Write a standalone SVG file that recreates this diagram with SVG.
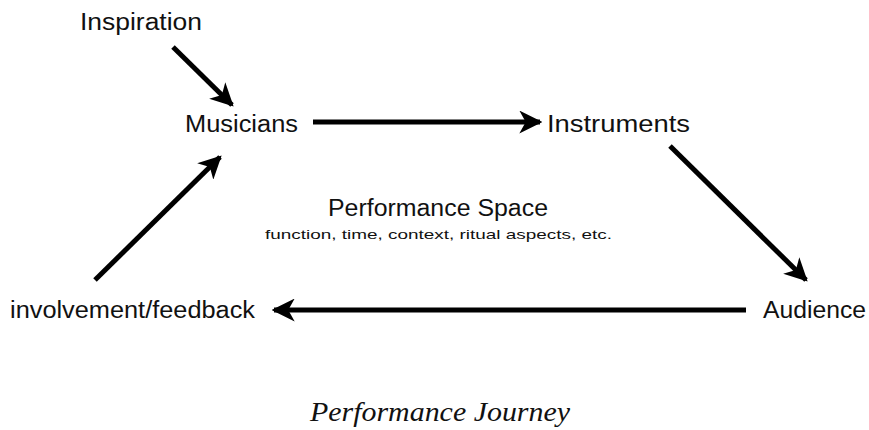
<svg xmlns="http://www.w3.org/2000/svg" width="869" height="430" viewBox="0 0 869 430">
  <style>
    .lbl { font-family: "Liberation Sans", Arial, sans-serif; font-size: 23px; fill: #111; }
    .space { font-family: "Liberation Sans", Arial, sans-serif; font-size: 23px; fill: #111; }
    .note { font-family: "Liberation Sans", Arial, sans-serif; font-size: 13.5px; fill: #111; }
    .title { font-family: "Liberation Serif", "Times New Roman", serif; font-style: italic; font-size: 27px; fill: #111; }
    .edge { stroke: #000; stroke-width: 5; fill: none; stroke-linecap: butt; marker-end: url(#head); }
  </style>
  <defs>
    <marker id="head" viewBox="0 0 10 10" refX="9" refY="5" markerWidth="4.6" markerHeight="4.6" orient="auto" markerUnits="strokeWidth">
      <path d="M0,0 L10,5 L0,10 L2.8,5 Z" fill="#000"/>
    </marker>
  </defs>
  <rect width="869" height="430" fill="#fff"/>

  <g id="connectors">
    <line class="edge" x1="173" y1="47" x2="232" y2="105"/>
    <line class="edge" x1="313" y1="122" x2="540" y2="122"/>
    <line class="edge" x1="670" y1="146" x2="806" y2="280"/>
    <line class="edge" x1="746" y1="310" x2="274" y2="310"/>
    <line class="edge" x1="95" y1="280" x2="220" y2="157"/>
  </g>

  <g id="inspiration"><text class="lbl" x="80" y="30" textLength="122" lengthAdjust="spacingAndGlyphs">Inspiration</text></g>
  <g id="musicians"><text class="lbl" x="185" y="132" textLength="113" lengthAdjust="spacingAndGlyphs">Musicians</text></g>
  <g id="instruments"><text class="lbl" x="547" y="132" textLength="143" lengthAdjust="spacingAndGlyphs">Instruments</text></g>
  <g id="audience"><text class="lbl" x="763" y="318" textLength="103" lengthAdjust="spacingAndGlyphs">Audience</text></g>
  <g id="involvement"><text class="lbl" x="10" y="318" textLength="245" lengthAdjust="spacingAndGlyphs">involvement/feedback</text></g>

  <g id="performance-space">
    <text class="space" x="328" y="216" textLength="220" lengthAdjust="spacingAndGlyphs">Performance Space</text>
    <text class="note" x="265" y="239" textLength="347" lengthAdjust="spacingAndGlyphs">function, time, context, ritual aspects, etc.</text>
  </g>

  <text class="title" x="310" y="421" textLength="260" lengthAdjust="spacingAndGlyphs">Performance Journey</text>
</svg>
